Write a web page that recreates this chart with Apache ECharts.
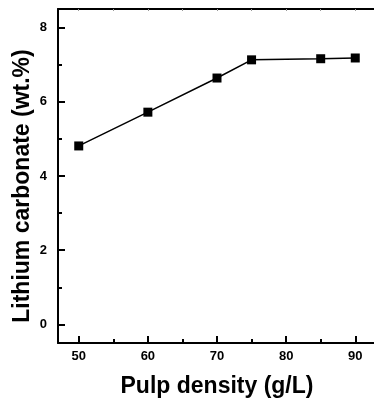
<!DOCTYPE html>
<html>
<head>
<meta charset="utf-8">
<script src="https://cdn.jsdelivr.net/npm/echarts@6/dist/echarts.min.js"></script>
<style>
html,body{margin:0;padding:0;background:#fff;}
#c{width:374px;height:405px;}
</style>
</head>
<body>
<div id="c"></div>
<script>
var pulpDensity = [50, 60, 70, 75, 85, 90];
var lithiumCarbonate = [4.81, 5.72, 6.64, 7.13, 7.16, 7.18];
var xMajorTicks = [50, 60, 70, 80, 90];
var xMinorTicks = [55, 65, 75, 85];
var yMajorTicks = [0, 2, 4, 6, 8];
var yMinorTicks = [1, 3, 5, 7];
var xTitle = 'Pulp density (g/L)';
var yTitle = 'Lithium carbonate (wt.%)';

var FONT = '"Liberation Sans", Arial, sans-serif';
var chart = echarts.init(document.getElementById('c'), null, {renderer: 'canvas'});
var lineStyle = {color: '#000', width: 2};
var gridBox = {left: 58, top: 9, width: 318, height: 334, containLabel: false, outerBoundsMode: 'none', show: false};

var option = {
  animation: false,
  grid: [Object.assign({}, gridBox), Object.assign({}, gridBox)],
  xAxis: [
    {
      type: 'value', min: 47, max: 93, position: 'bottom', gridIndex: 0,
      axisLine: {show: true, onZero: false, lineStyle: lineStyle},
      axisTick: {show: true, inside: true, length: 7, customValues: xMajorTicks, lineStyle: {color: '#000', width: 2}},
      axisLabel: {show: true, customValues: xMajorTicks, margin: 7, color: '#000', fontFamily: FONT, fontWeight: 'bold', fontSize: 13},
      splitLine: {show: false},
      name: xTitle, nameLocation: 'middle', nameGap: 32,
      nameTextStyle: {color: '#000', fontFamily: FONT, fontWeight: 'bold', fontSize: 23}
    },
    {
      type: 'value', min: 47, max: 93, position: 'top', gridIndex: 0,
      axisLine: {show: true, onZero: false, lineStyle: lineStyle},
      axisTick: {show: true, inside: true, length: 2, customValues: xMajorTicks.concat(xMinorTicks), lineStyle: {color: '#999', width: 1}},
      axisLabel: {show: false}, splitLine: {show: false}
    },
    {
      type: 'value', min: 47, max: 93, position: 'bottom', gridIndex: 1,
      axisLine: {show: false, onZero: false},
      axisTick: {show: true, inside: true, length: 4, customValues: xMinorTicks, lineStyle: {color: '#000', width: 2}},
      axisLabel: {show: false}, splitLine: {show: false}
    }
  ],
  yAxis: [
    {
      type: 'value', min: -0.5, max: 8.5, position: 'left', gridIndex: 0,
      axisLine: {show: true, onZero: false, lineStyle: lineStyle},
      axisTick: {show: true, inside: true, length: 7, customValues: yMajorTicks, lineStyle: {color: '#000', width: 2}},
      axisLabel: {show: true, customValues: yMajorTicks, margin: 11, color: '#000', fontFamily: FONT, fontWeight: 'bold', fontSize: 13},
      splitLine: {show: false}
    },
    {
      type: 'value', min: -0.5, max: 8.5, position: 'left', gridIndex: 1,
      axisLine: {show: false, onZero: false},
      axisTick: {show: true, inside: true, length: 4, customValues: yMinorTicks, lineStyle: {color: '#000', width: 2}},
      axisLabel: {show: false}, splitLine: {show: false}
    }
  ],
  graphic: [{
    type: 'text',
    x: 23, y: 186, rotation: Math.PI / 2,
    style: {
      text: yTitle, fill: '#000', font: 'bold 23px ' + FONT,
      align: 'center', verticalAlign: 'middle'
    }
  }],
  series: [{
    type: 'line',
    xAxisIndex: 0, yAxisIndex: 0,
    data: pulpDensity.map(function (x, i) { return [x, lithiumCarbonate[i]]; }),
    symbol: 'rect', symbolSize: 9,
    itemStyle: {color: '#000'},
    lineStyle: {color: '#000', width: 1.5}
  }]
};
chart.setOption(option);
</script>
</body>
</html>
